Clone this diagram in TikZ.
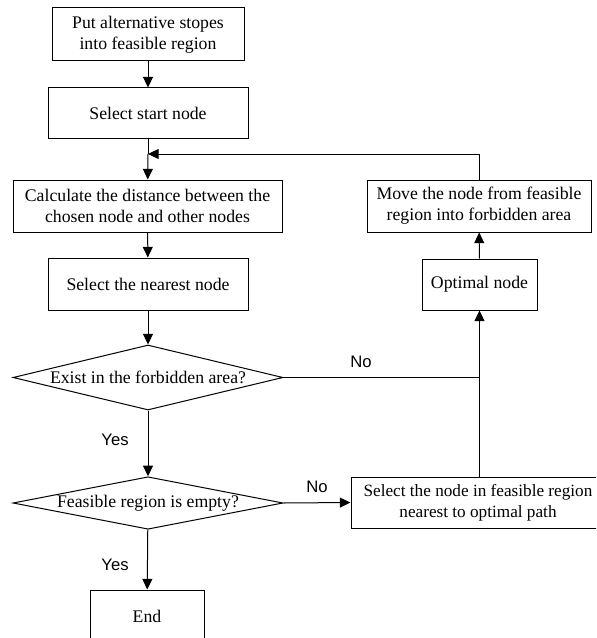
\documentclass[tikz,border=0pt]{standalone}
\usepackage{fontspec}
\setmainfont{Liberation Serif}
\setsansfont{Liberation Sans}
\usetikzlibrary{shapes.geometric,arrows.meta}

\begin{document}
\begin{tikzpicture}[x=0.75pt,y=-0.75pt,line width=0.75pt,
  box/.style={draw,rectangle,align=center,font=\fontsize{13.3}{15.5}\selectfont,inner sep=2pt},
  test/.style={draw,diamond,aspect=5,inner sep=0pt,font=\fontsize{13.3}{15.5}\selectfont},
  tag/.style={font=\sffamily\fontsize{12.5}{14}\selectfont},
  >={Triangle[length=8pt,width=7.5pt]}]
\useasboundingbox (0,0) rectangle (596,638);
\clip (0,0) rectangle (596,638);

%left column
\node[box,minimum width=144pt,minimum height=39.75pt] (put) at (148,34.5) {Put alternative stopes\\into feasible region};
\node[box,minimum width=150pt,minimum height=38.25pt] (start) at (148,113.5) {Select start node};
\node[box,minimum width=201.75pt,minimum height=39pt] (calc) at (147.5,206) {Calculate the distance between the\\chosen node and other nodes};
\node[box,minimum width=150pt,minimum height=39pt] (near) at (148,284) {Select the nearest node};
\node[test,minimum width=202.5pt,minimum height=48.75pt] (forbid) at (148,377.5) {Exist in the forbidden area?};
\node[test,minimum width=202.5pt,minimum height=39pt] (empty) at (148,503) {Feasible region is empty?};
\node[box,minimum width=85.5pt,minimum height=39pt] (stop) at (147,616) {End};

%right column
\node[box,minimum width=168pt,minimum height=39pt] (move) at (479,206) {Move the node from feasible\\region into forbidden area};
\node[box,minimum width=86.25pt,minimum height=38.25pt] (optim) at (479.5,284.5) {Optimal node};
\node[box,minimum width=190.5pt,minimum height=38.25pt,font=\fontsize{12.9}{15.5}\selectfont] (pick) at (478,502.5) {Select the node in feasible region\\nearest to optimal path};

\coordinate (merge) at (148,154);

%arrows
\draw[->] (put) -- (start);
\draw (start) -- (merge);
\draw[->] (merge) -- (calc);
\draw[->] (calc) -- (near);
\draw[->] (near) -- (forbid);
\draw[->] (forbid) -- (empty);
\draw[->] (empty) -- (stop);
\draw[->] (empty.east) -- (pick.west);
\draw[->] (pick.north -| optim.south) -- (optim.south);
\draw[->] (optim) -- (move);
\draw (forbid.east) -- (forbid.east -| optim.south);
\draw[->] (move.north) |- (merge);

%labels
\node[tag] (yes1) at (115,440) {Yes};
\node[tag] (yes2) at (115,565) {Yes};
\node[tag] (no1) at (361,362) {No};
\node[tag] (no2) at (317,487) {No};

\end{tikzpicture}
\end{document}
